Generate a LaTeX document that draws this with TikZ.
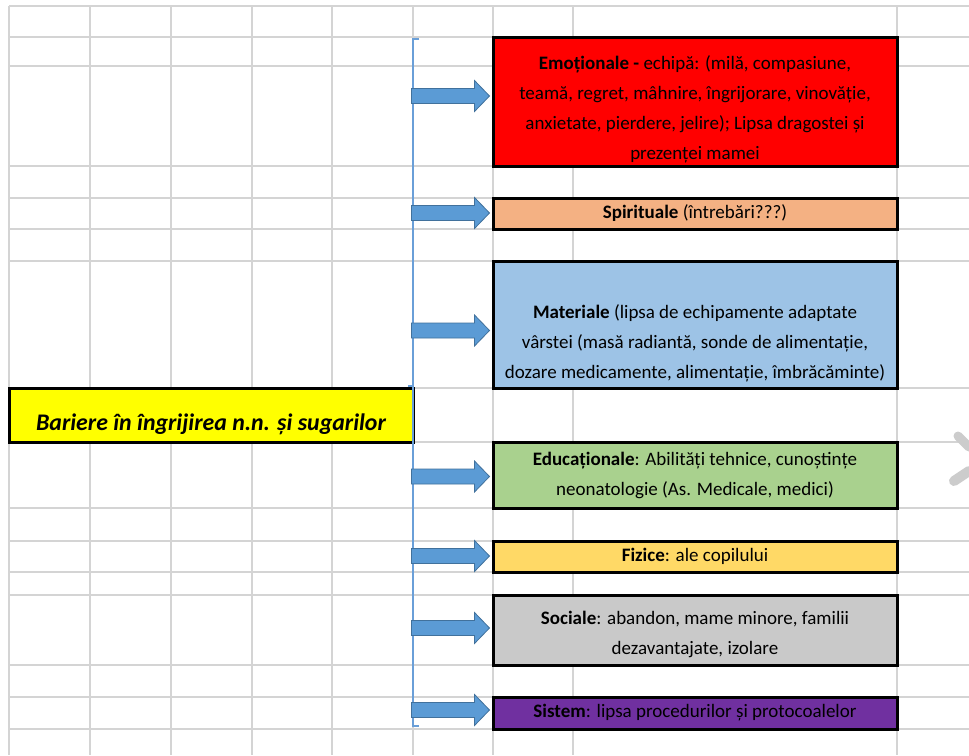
\documentclass[tikz,border=0pt]{standalone}
\usepackage{fontspec}
\setmainfont{Carlito}
\usetikzlibrary{calc}
\definecolor{gridc}{HTML}{D4D4D4}
\definecolor{cemo}{HTML}{FF0000}
\definecolor{cspi}{HTML}{F4B183}
\definecolor{cmat}{HTML}{9DC3E6}
\definecolor{cyel}{HTML}{FFFF00}
\definecolor{cedu}{HTML}{A9D18E}
\definecolor{cfiz}{HTML}{FFD966}
\definecolor{csoc}{HTML}{C9C9C9}
\definecolor{csis}{HTML}{7030A0}
\definecolor{afill}{HTML}{5B9BD5}
\definecolor{aline}{HTML}{41719C}
\definecolor{brack}{HTML}{6A9FD8}
\tikzset{
  gridline/.style={draw=gridc, line width=1.4pt},
  catbox/.style={draw=black, line width=3pt, inner sep=0pt},
  cattext/.style={align=center, inner sep=0pt, font=\fontsize{19}{30}\selectfont},
  arrowsty/.style={fill=afill, draw=aline, line width=0.8pt, line join=miter},
}
\newcommand{\blockarrow}[2]{%
  \filldraw[arrowsty] ([xshift=-2pt,yshift=#2]#1.west) -- ++(-15,15.5) -- ++(0,-8) -- ++(-63,0) -- ++(0,-15) -- ++(63,0) -- ++(0,-8) -- cycle;}
\begin{document}
\begin{tikzpicture}[x=1pt,y=-1pt]
\useasboundingbox[fill=white] (0,0) rectangle (969,755);
% grid
\foreach \gx in {9,90,171,252,332,413,493,573,897}
  \draw[gridline] (\gx,6) -- (\gx,755);
\foreach \gy in {6,37,66,166,198,229,261,388,442,508,541,572,595,665,697,729}
  \draw[gridline] (9,\gy) -- (969,\gy);
% faint marks at right edge
\draw[line width=9pt, line cap=round, black!20] (958,436) -- (969,447);
\draw[line width=10pt, line cap=round, black!20] (954,481) -- (969,471);
% boxes
\node[catbox, fill=cemo, minimum width=404, minimum height=129] (emo) at (695,101.5) {};
\node[catbox, fill=cspi, minimum width=404, minimum height=31] (spi) at (695,213.5) {};
\node[catbox, fill=cmat, minimum width=404, minimum height=127] (mat) at (695,324.5) {};
\node[catbox, fill=cyel, minimum width=404, minimum height=54] (main) at (211,415) {};
\node[catbox, fill=cedu, minimum width=404, minimum height=66] (edu) at (695,475) {};
\node[catbox, fill=cfiz, minimum width=404, minimum height=31] (fiz) at (695,556.5) {};
\node[catbox, fill=csoc, minimum width=404, minimum height=70] (soc) at (695,630) {};
\node[catbox, fill=csis, minimum width=404, minimum height=32] (sis) at (695,713) {};
% texts
\node[cattext] (emot) at ([yshift=-7.5]emo.center) {\textbf{Emoționale -} echipă: (milă, compasiune,\\ teamă, regret, mâhnire, îngrijorare, vinovăție,\\ anxietate, pierdere, jelire); Lipsa dragostei și\\ prezenței mamei};
\node[cattext] (spit) at (spi.center) {\textbf{Spirituale} (întrebări???)};
\node[cattext] (matt) at ([yshift=-18.5]mat.center) {\textbf{Materiale} (lipsa de echipamente adaptate\\ vârstei (masă radiantă, sonde de alimentație,\\ dozare medicamente, alimentație, îmbrăcăminte)};
\node[align=center, inner sep=0pt, font=\fontsize{23.8}{28}\selectfont\bfseries\itshape] (maint) at ([yshift=-9]main.center) {Bariere în îngrijirea n.n. și sugarilor};
\node[cattext] (edut) at (edu.center) {\textbf{Educaționale}: Abilități tehnice, cunoștințe\\ neonatologie (As. Medicale, medici)};
\node[cattext] (fizt) at (fiz.center) {\textbf{Fizice}: ale copilului};
\node[cattext] (soct) at ([yshift=-4.5]soc.center) {\textbf{Sociale}: abandon, mame minore, familii\\ dezavantajate, izolare};
\node[cattext] (sist) at (sis.center) {\textbf{Sistem}: lipsa procedurilor și protocoalelor};
% bracket
\coordinate (btop) at (413,39);
\coordinate (bbot) at (413,726);
\coordinate (bmid) at (413,386);
\draw[brack, line width=1.5pt] ([xshift=6]btop) -- (btop) -- (bmid) -- (bbot) -- ([xshift=6]bbot);
\draw[brack, line width=1.5pt] (bmid) -- ([xshift=-5]bmid);
% arrows
\blockarrow{emo}{5.5}
\blockarrow{spi}{0.5}
\blockarrow{mat}{-6}
\blockarrow{edu}{-1.5}
\blockarrow{fiz}{0.5}
\blockarrow{soc}{2}
\blockarrow{sis}{3}
\end{tikzpicture}
\end{document}
